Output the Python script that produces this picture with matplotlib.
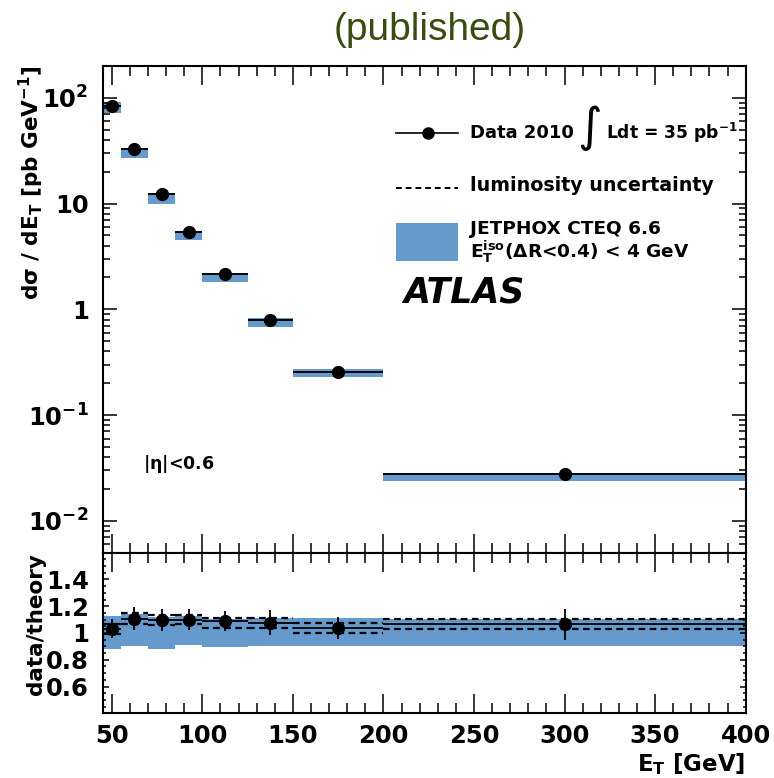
import matplotlib
matplotlib.use("Agg")
import matplotlib.pyplot as plt
import numpy as np
from matplotlib.patches import Rectangle
from matplotlib.lines import Line2D
from matplotlib.ticker import FixedLocator, LogLocator, NullFormatter, MultipleLocator

# ---------------- data ----------------
bin_lo = [45, 55, 70, 85, 100, 125, 150, 200]
bin_hi = [55, 70, 85, 100, 125, 150, 200, 400]
et_center = [50, 62.5, 77.5, 92.5, 112.5, 137.5, 175, 300]
xsec = [83.0, 32.8, 12.3, 5.35, 2.16, 0.80, 0.257, 0.0276]
xsec_err = [5.0, 2.5, 0.9, 0.4, 0.15, 0.065, 0.021, 0.003]
theory_lo = [72.1, 26.7, 9.96, 4.51, 1.80, 0.675, 0.227, 0.0237]
theory_hi = [90.8, 33.6, 12.6, 5.48, 2.22, 0.832, 0.274, 0.0286]

ratio = [1.033, 1.107, 1.097, 1.10, 1.087, 1.078, 1.037, 1.065]
ratio_err = [0.07, 0.087, 0.08, 0.08, 0.075, 0.09, 0.085, 0.115]
ratio_band_lo = [0.884, 0.90, 0.884, 0.913, 0.896, 0.90, 0.90, 0.90]
ratio_band_hi = [1.13, 1.145, 1.12, 1.13, 1.107, 1.115, 1.115, 1.107]
lumi_up = [1.07, 1.149, 1.132, 1.137, 1.115, 1.115, 1.078, 1.102]
lumi_dn = [0.995, 1.065, 1.057, 1.065, 1.04, 1.037, 1.0, 1.027]

top_yticks = [1e-2, 1e-1, 1, 10, 100]
top_yticklabels = [r'$10^{-2}$', r'$10^{-1}$', '1', '10', r'$10^{2}$']
bot_yticks = [0.6, 0.8, 1.0, 1.2, 1.4]
bot_yticklabels = ['0.6', '0.8', '1', '1.2', '1.4']
xticks = [50, 100, 150, 200, 250, 300, 350, 400]

# ---------------- style ----------------
plt.rcParams['font.family'] = ['DejaVu Sans']
plt.rcParams['font.weight'] = 'bold'
plt.rcParams['mathtext.fontset'] = 'dejavusans'
plt.rcParams['mathtext.default'] = 'bf'

BLUE = '#6699cc'
FS = 17.5
LAB = 15.5

fig = plt.figure(figsize=(7.74, 7.78), dpi=100)
ax = fig.add_axes([0.1327, 0.2896, 0.8307, 0.6256])
axr = fig.add_axes([0.1327, 0.0832, 0.8307, 0.2064], sharex=ax)

lo = np.array(bin_lo, float)
hi = np.array(bin_hi, float)
xc = np.array(et_center, float)
xerr = [xc - lo, hi - xc]

# ---- top panel ----
ax.bar(lo, np.array(theory_hi) - np.array(theory_lo), bottom=theory_lo,
       width=hi - lo, align='edge', color=BLUE, edgecolor='none', zorder=1)
ax.errorbar(xc, xsec, xerr=xerr, yerr=xsec_err, fmt='o', color='black',
            ms=8.5, elinewidth=1.4, capsize=0, zorder=3)
ax.set_yscale('log')
ax.set_ylim(0.005, 200)
ax.set_xlim(45, 400)
ax.yaxis.set_major_locator(FixedLocator(top_yticks))
ax.set_yticklabels(top_yticklabels)
ax.yaxis.set_minor_locator(LogLocator(base=10, subs=np.arange(2, 10)))
ax.yaxis.set_minor_formatter(NullFormatter())
ax.xaxis.set_major_locator(FixedLocator(xticks))
ax.xaxis.set_minor_locator(MultipleLocator(10))
ax.tick_params(labelbottom=False)

# ---- ratio panel ----
axr.bar(lo, np.array(ratio_band_hi) - np.array(ratio_band_lo), bottom=ratio_band_lo,
        width=hi - lo, align='edge', color=BLUE, edgecolor='none', zorder=1)
axr.hlines(lumi_up, lo, hi, colors='black', linestyles=(0, (3, 2)), lw=1.6, zorder=2)
axr.hlines(lumi_dn, lo, hi, colors='black', linestyles=(0, (3, 2)), lw=1.6, zorder=2)
axr.errorbar(xc, ratio, xerr=xerr, yerr=ratio_err, fmt='o', color='black',
             ms=8.5, elinewidth=1.3, capsize=0, zorder=3)
axr.set_ylim(0.4, 1.6)
axr.yaxis.set_major_locator(FixedLocator(bot_yticks))
axr.set_yticklabels(bot_yticklabels)
axr.yaxis.set_minor_locator(MultipleLocator(0.05))
axr.set_xticks(xticks)
axr.set_xticklabels([str(v) for v in xticks])
axr.xaxis.set_minor_locator(MultipleLocator(10))
axr.set_xlim(45, 400)

for a in (ax, axr):
    for s in a.spines.values():
        s.set_linewidth(1.5)
    a.tick_params(which='both', direction='in', top=True, right=True,
                  labelsize=FS, width=1.1)
    a.tick_params(axis='x', which='major', length=13.5, pad=8)
    a.tick_params(axis='x', which='minor', length=7)
ax.tick_params(axis='y', which='major', length=10, pad=10)
ax.tick_params(axis='y', which='minor', length=5)
axr.tick_params(axis='y', which='major', length=4, pad=10)
axr.tick_params(axis='y', which='minor', length=2)

for lab in ax.get_yticklabels() + axr.get_yticklabels() + axr.get_xticklabels():
    lab.set_fontweight('bold')

ax.set_ylabel(r'd$\sigma$ / dE$_\mathbf{T}$ [pb GeV$^{-1}$]', fontsize=LAB,
              fontweight='bold', loc='top')
axr.set_ylabel('data/theory', fontsize=LAB, fontweight='bold', loc='top')
axr.set_xlabel(r'E$_\mathbf{T}$ [GeV]', fontsize=LAB + 1, fontweight='bold', loc='right',
               labelpad=2)
ax.yaxis.set_label_coords(-0.088, 1.0)
axr.yaxis.set_label_coords(-0.088, 1.0)

# ---- legend (manual) ----
LFS = 13.3
T = ax.transAxes
ax.add_line(Line2D([0.4566, 0.5530], [0.8617, 0.8617], transform=T, color='black', lw=1.2))
ax.add_line(Line2D([0.506], [0.8617], transform=T, marker='o', color='black', ms=8))
ax.text(0.5712, 0.862, 'Data 2010', transform=T, fontsize=13, fontweight='bold',
        va='center', ha='left')
ax.text(0.7575, 0.873, '\u222b', transform=T, fontsize=34, fontweight='normal',
        va='center', ha='center')
ax.text(0.7828, 0.862, r'Ldt = 35 pb$^{-1}$', transform=T, fontsize=12.3,
        fontweight='bold', va='center', ha='left')
ax.add_line(Line2D([0.4566, 0.5530], [0.7487, 0.7487], transform=T, color='black',
                   lw=1.4, ls=(0, (3, 2))))
ax.text(0.5712, 0.7534, 'luminosity uncertainty', transform=T, fontsize=13.7,
        fontweight='bold', va='center', ha='left')
ax.add_patch(Rectangle((0.4566, 0.5989), 0.0964, 0.0792, transform=T,
                       facecolor=BLUE, edgecolor='none'))
ax.text(0.5712, 0.665, 'JETPHOX CTEQ 6.6', transform=T, fontsize=LFS,
        fontweight='bold', va='center', ha='left')
ax.text(0.5712, 0.618, r'E$_\mathbf{T}^\mathbf{iso}$($\Delta$R<0.4) < 4 GeV', transform=T,
        fontsize=LFS, fontweight='bold', va='center', ha='left')
ax.text(0.467, 0.535, 'ATLAS', transform=T, fontsize=25, fontweight='bold',
        fontstyle='italic', va='center', ha='left')
ax.text(0.0627, 0.1823, r'$|\mathrm{\eta}|$<0.6', transform=T, fontsize=12.5,
        fontweight='bold', va='center', ha='left')

fig.text(0.5556, 0.9614, '(published)', fontsize=28, color='#3b4a10',
         fontweight='normal', family='Liberation Sans', ha='center', va='center')

fig.savefig('out.png', dpi=100)
